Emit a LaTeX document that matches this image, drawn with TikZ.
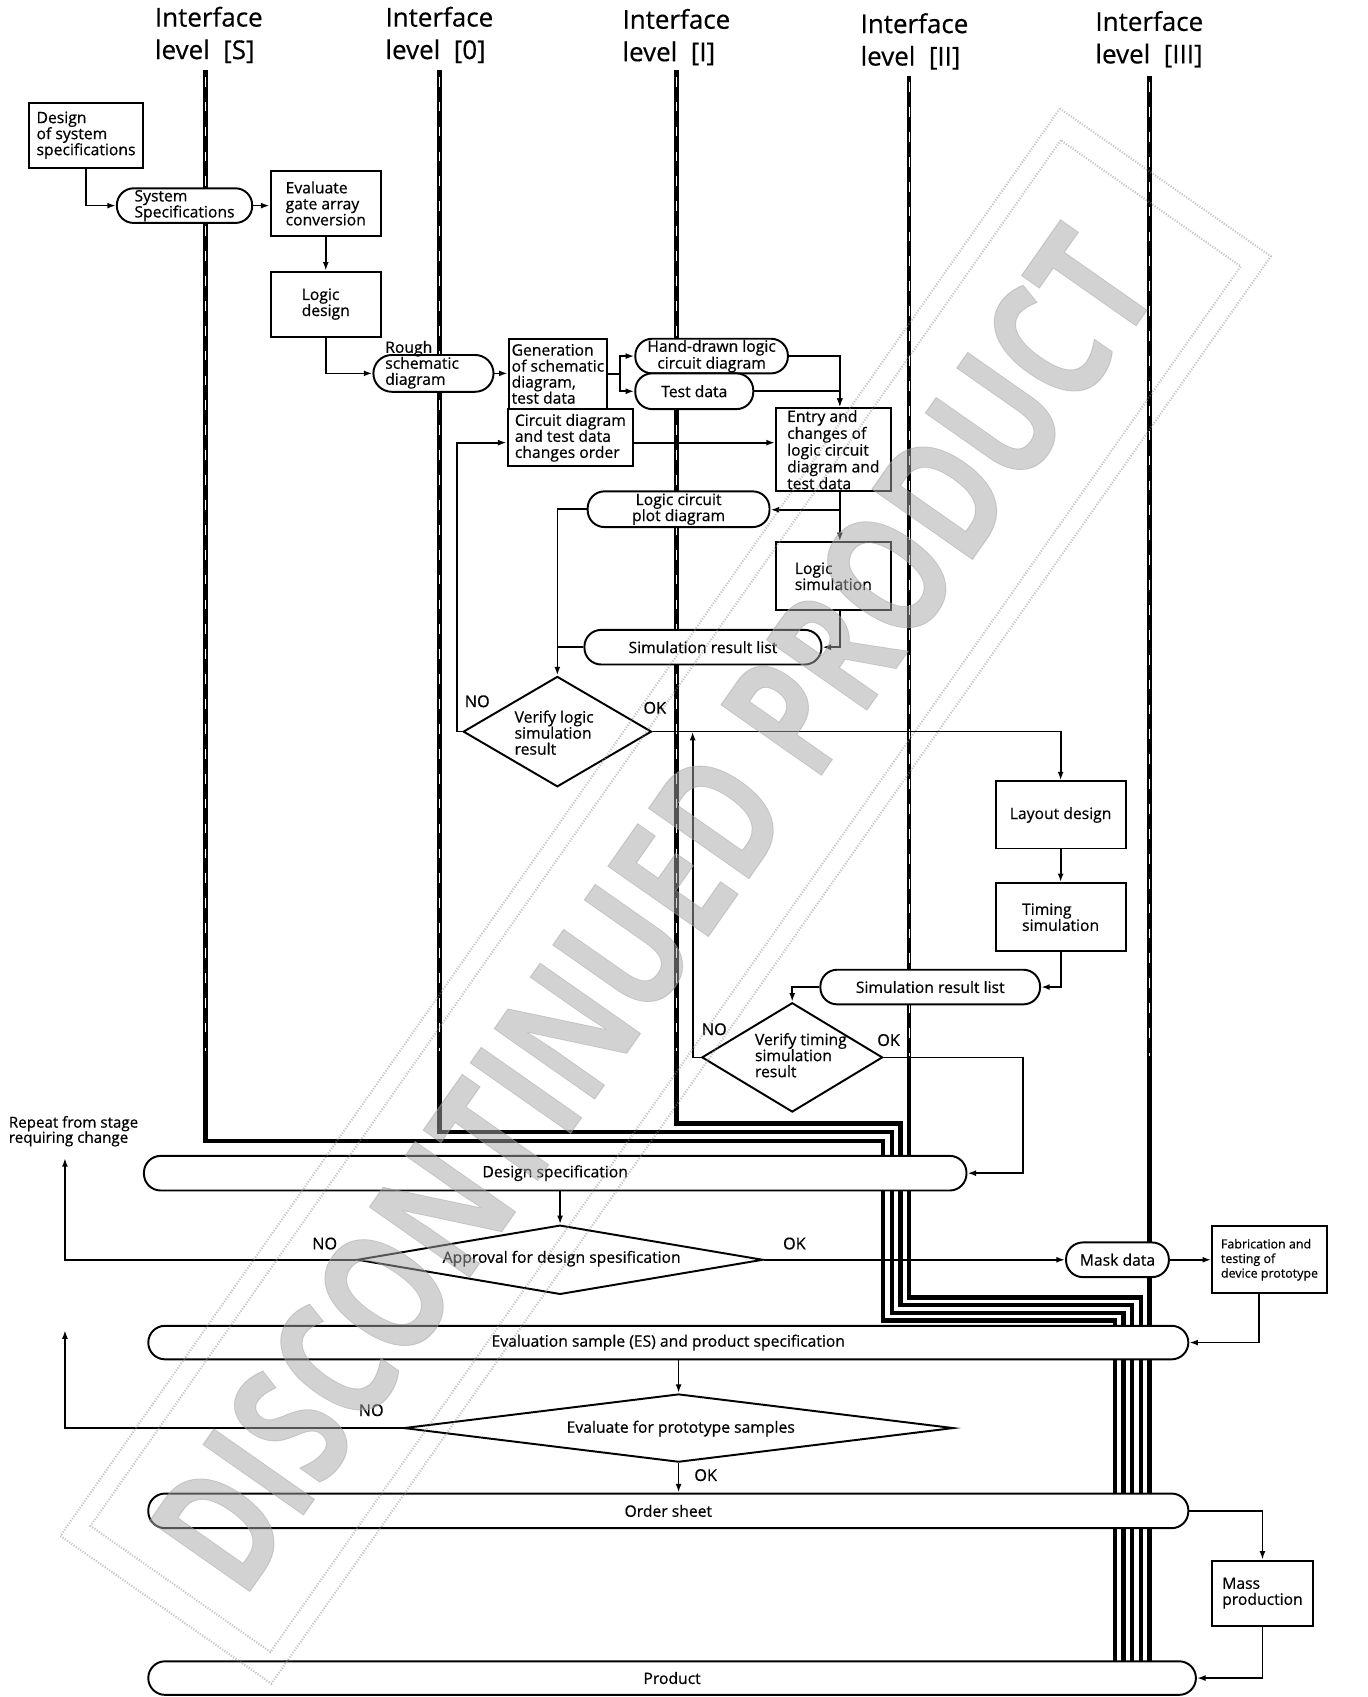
\documentclass[tikz,border=0pt]{standalone}
\usepackage{fontspec}
\setmainfont{Open Sans}[FakeBold=0.6]
\newfontfamily\hfont{Open Sans}[FakeBold=0.4]
\usetikzlibrary{arrows.meta,shapes.misc,shapes.geometric,calc}
\newcommand\fs{\fontsize{14.5}{14.8}\selectfont}
\tikzset{
 ln/.style={line width=1.6pt},
 arr/.style={line width=1.6pt,-{Latex[length=8pt,width=5.5pt]}},
 box/.style={draw,line width=1.8pt,fill=white,rectangle,inner sep=2pt,align=left,font=\fs},
 term/.style={draw,line width=1.8pt,fill=white,rectangle,rounded corners=15.5pt,inner sep=1pt,align=center,font=\fs},
 dia/.style={draw,line width=1.8pt,fill=white,diamond,inner sep=0pt},
 bus/.style={line width=4pt,line join=miter},
 head/.style={font=\hfont\fontsize{24}{30}\selectfont,align=left,inner sep=0pt,anchor=north west},
 lab/.style={font=\fontsize{15}{15}\selectfont,inner sep=0pt},
 txt/.style={font=\fs,align=left,inner sep=0pt},
 wmbox/.style={draw=black!45,line width=2pt,dash pattern=on 1pt off 1.5pt,rotate=55,inner sep=0pt},
}
\begin{document}
\begin{tikzpicture}[x=1pt,y=-1pt]
\useasboundingbox (0,0) rectangle (1264,1568);
% headers
\node[head] (hS) at (143,6) {Interface\\level~~[S]};
\node[head] (h0) at (356,6) {Interface\\level~~[0]};
\node[head] (h1) at (575,8) {Interface\\level~~[I]};
\node[head] (h2) at (795,12) {Interface\\level~~[II]};
\node[head] (h3) at (1012,10) {Interface\\level~~[III]};
% interface lines / bus
\coordinate (sT) at (190,65);
\coordinate (zT) at (406,65);
\coordinate (iT) at (625,65);
\coordinate (iiT) at (840,70);
\coordinate (iiiT) at (1062,70);
\draw[bus] (sT) -- (190,1054) -- (816,1054) -- (816,1220) -- (1030,1220) -- (1030,1550);
\draw[bus] (zT) -- (406,1046) -- (824,1046) -- (824,1213) -- (1038,1213) -- (1038,1550);
\draw[bus] (iT) -- (625,1038) -- (832,1038) -- (832,1206) -- (1046,1206) -- (1046,1550);
\draw[bus] (iiT) -- (840,1199) -- (1054,1199) -- (1054,1550);
\draw[bus] (iiiT) -- (1062,1550);
\foreach \p in {sT,zT,iT,iiT,iiiT}{\draw[white,line width=0.6pt,dash pattern=on 9pt off 14pt] ($(\p)+(0,6)$) -- ++(0,900);}

% helper coordinates
\coordinate (gbr) at (573,345.5);
\coordinate (ecol) at (776,0);
\coordinate (j1) at (776,471);
\coordinate (vtno) at (640,676);
\coordinate (vtok) at (945,977);
\coordinate (rep1) at (60,1070);
\coordinate (rep2) at (60,1229);

% nodes
\node[box,minimum width=105pt,minimum height=60pt] (dss) at (79.5,125) {Design\\of system\\specifications};
\node[term,align=left,minimum width=125pt,minimum height=32pt] (ss) at (170.5,190) {System\\Specifications};
\node[box,minimum width=102pt,minimum height=60pt] (ega) at (301,188) {Evaluate\\gate array\\conversion};
\node[box,minimum width=102pt,minimum height=60pt] (ld) at (301,281) {Logic\\design};
\node[term,rounded corners=17pt,minimum width=111pt,minimum height=34pt] (rsd) at (400.5,345) {};
\node[txt] (rsdt) at (390,337) {Rough\\schematic\\diagram};
\node[box,minimum width=91pt,minimum height=65pt,inner sep=1pt] (gen) at (515.5,345.5) {Generation\\of schematic\\diagram,\\test data};
\node[box,minimum width=116pt,minimum height=53pt,inner sep=1pt] (cdc) at (527,404.5) {Circuit diagram\\and test data\\changes order};
\node[term,font=\fontsize{14.5}{12}\selectfont,minimum width=141pt,minimum height=32pt] (hd) at (657.5,329) {Hand-drawn logic\\circuit diagram};
\node[term,minimum width=109pt,minimum height=33pt] (td) at (641.5,361.5) {Test data};
\node[box,font=\fontsize{14.5}{14.2}\selectfont,inner sep=1pt,minimum width=106pt,minimum height=77pt] (ent) at (770,415.5) {Entry and\\changes of\\logic circuit\\diagram and\\test data};
\node[term,minimum width=168pt,minimum height=33pt] (lcp) at (627,470.5) {Logic circuit\\plot diagram};
\node[box,minimum width=106pt,minimum height=63pt] (ls) at (770,532.5) {Logic\\simulation};
\node[term,minimum width=219pt,minimum height=32pt] (srl1) at (649.5,598) {Simulation result list};
\node[dia,minimum width=174pt,minimum height=102pt] (vl) at (515,676) {};
\node[txt] (vlt) at (512,677) {Verify logic\\simulation\\result};
\node[box,minimum width=120pt,minimum height=62pt] (lay) at (980,753) {Layout design};
\node[box,minimum width=120pt,minimum height=63pt] (tim) at (980,847.5) {Timing\\simulation};
\node[term,minimum width=203pt,minimum height=32pt] (srl2) at (859.5,912) {Simulation result list};
\node[dia,minimum width=167pt,minimum height=101pt] (vt) at (732,977) {};
\node[txt] (vtt) at (740,975) {Verify timing\\simulation\\result};
\node[term,minimum width=760pt,minimum height=32pt] (dsp) at (513,1084) {Design specification};
\node[dia,minimum width=375pt,minimum height=64pt] (app) at (517.5,1164) {};
\node[txt] (appt) at (519,1163) {Approval for design spesification};
\node[term,minimum width=95pt,minimum height=32pt] (mask) at (1032.5,1164) {Mask data};
\node[box,font=\fontsize{11.5}{13.5}\selectfont,minimum width=106pt,minimum height=62pt] (fab) at (1173,1164) {Fabrication and\\testing of\\device prototype};
\node[term,minimum width=961pt,minimum height=31pt] (es) at (617.5,1240.5) {Evaluation sample (ES) and product specification};
\node[dia,minimum width=508pt,minimum height=63pt] (evp) at (627,1319.5) {};
\node[txt] (evpt) at (629,1320) {Evaluate for prototype samples};
\node[term,minimum width=961pt,minimum height=32pt] (ord) at (617.5,1396) {Order sheet};
\node[box,minimum width=93pt,minimum height=60pt] (mass) at (1166.5,1472) {Mass\\production};
\node[term,minimum width=968pt,minimum height=31pt] (prod) at (621,1550.5) {Product};

% labels
\node[txt,font=\fontsize{14}{14}\selectfont,anchor=north west] (rep) at (8,1031) {Repeat from stage\\requiring change};
\node[lab] (no1) at (441,648) {NO};
\node[lab] (ok1) at (605,654) {OK};
\node[lab] (no2) at (660,951) {NO};
\node[lab] (ok2) at (821,961) {OK};
\node[lab] (no3) at (300,1149) {NO};
\node[lab] (ok3) at (734,1149) {OK};
\node[lab] (no4) at (343,1303) {NO};
\node[lab] (ok4) at (652,1363) {OK};

% connectors
\draw[arr] (dss.south) |- (ss.west);
\draw[arr] (ss.east) -- (ss.east -| ega.west);
\draw[arr] (ega.south) -- (ld.north);
\draw[arr] (ld.south) |- (rsd.west);
\draw[arr] (rsd.east) -- (rsd.east -| gen.west);
\draw[ln] (gen.east) -- (gbr);
\draw[arr] (gbr) |- (hd.west);
\draw[arr] (gbr) |- (td.west);
\draw[arr] (hd.east) -| (ent.north -| ecol);
\draw[arr] (td.east) -| (ent.north -| ecol);
\draw[arr] (cdc.east |- 0,409) -- (ent.west |- 0,409);
\draw[arr] (vl.west) -- ++(-5,0) |- (cdc.west |- 0,409);
\draw[ln] (ent.south -| ecol) -- (j1);
\draw[arr] (j1) -- (lcp.east |- j1);
\draw[arr] (j1) -- (ls.north -| ecol);
\draw[arr] (ls.south -| ecol) |- (srl1.east);
\draw[arr] (lcp.west) -| (vl.north);
\draw[ln] (srl1.west) -- (srl1.west -| vl.north);
\draw[arr] (vl.east) -| (lay.north);
\draw[arr] (vt.west) -| (vtno);
\draw[arr] (lay.south) -- (tim.north);
\draw[arr] (tim.south) |- (srl2.east);
\draw[arr] (srl2.west) -| (vt.north);
\draw[ln] (vt.east) -- (vtok);
\draw[arr] (vtok) |- (dsp.east);
\draw[arr] (dsp.south -| app.north) -- (app.north);
\draw[arr] (app.west) -| (rep1);
\draw[arr] (app.east) -- (mask.west);
\draw[arr] (mask.east) -- (fab.west);
\draw[arr] ($(fab.south)+(-10,0)$) |- (es.east);
\draw[arr] (es.south -| evp.north) -- (evp.north);
\draw[arr] (evp.west) -| (rep2);
\draw[arr] (evp.south) -- (evp.south |- ord.north);
\draw[arr] (ord.east) -| (mass.north);
\draw[arr] (mass.south) |- (prod.east);

% watermark stamp
\begin{scope}[opacity=0.5]
\node[wmbox,minimum width=1610pt,minimum height=238pt] (wmo) at (615,828) {};
\node[wmbox,minimum width=1563pt,minimum height=203pt] (wmi) at (615,828) {};
\node[rotate=55,text=black!35,inner sep=0pt] (wmt) at (603,840) {\resizebox{1480pt}{115pt}{\bfseries DISCONTINUED PRODUCT}};
\end{scope}
\end{tikzpicture}
\end{document}
